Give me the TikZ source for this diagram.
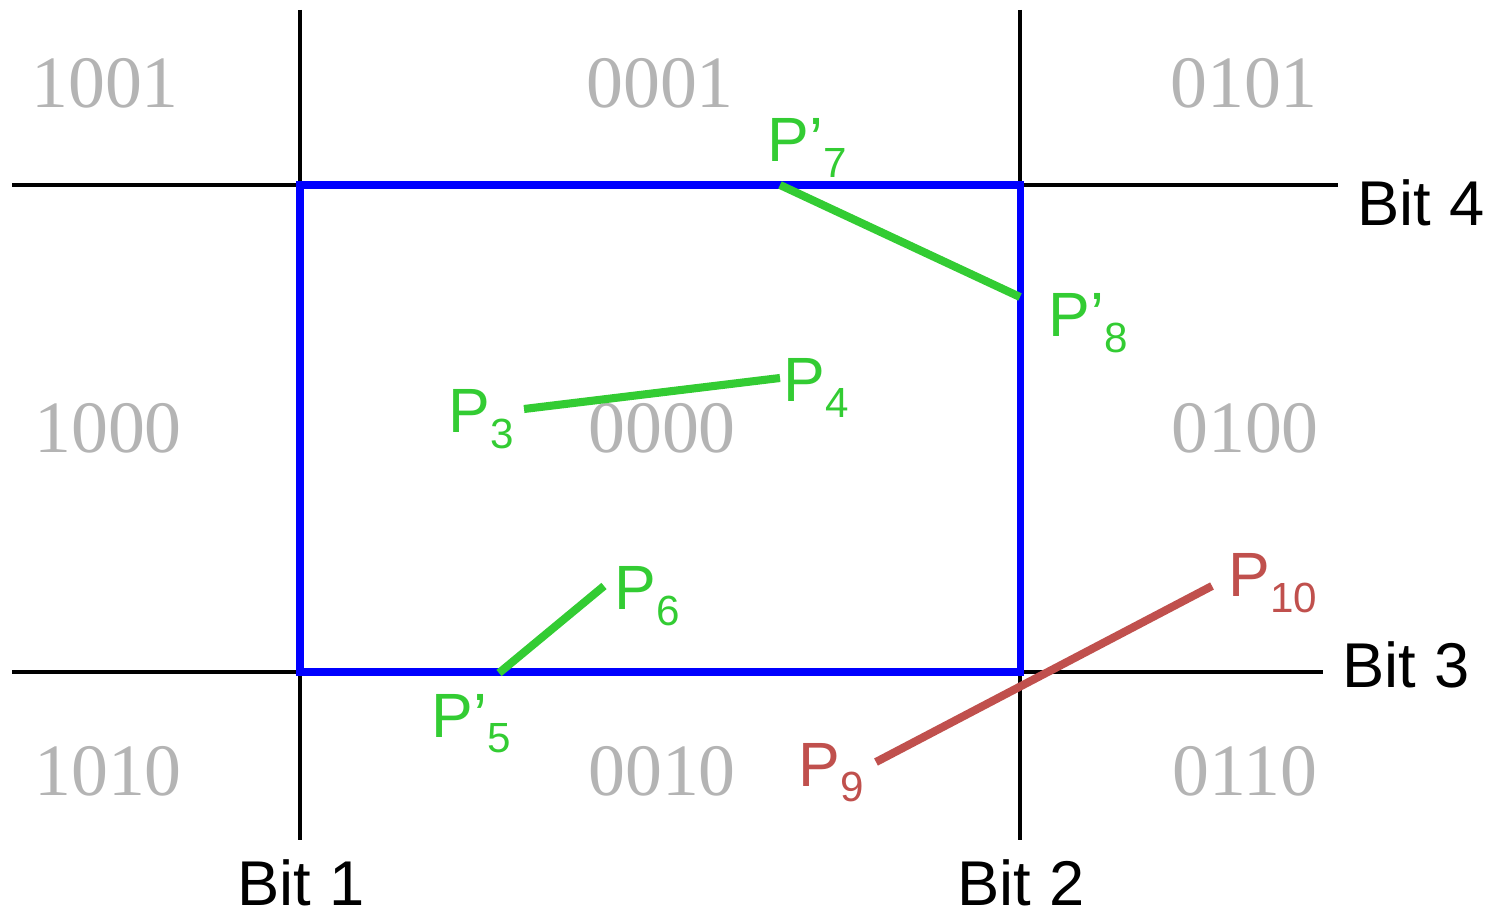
\documentclass[tikz,border=0pt]{standalone}
\usepackage{fontspec}
\setmainfont{Liberation Serif}
\newfontfamily\arialf{Liberation Sans}
\definecolor{codegray}{RGB}{180,180,180}
\definecolor{ptgreen}{RGB}{51,204,51}
\definecolor{ptred}{RGB}{192,80,77}
\newcommand\plabel[2]{P#1\raisebox{-4.3pt}{\fontsize{12}{14}\selectfont #2}}
\begin{document}
\begin{tikzpicture}[x=0.1mm,y=-0.1mm,
  code/.style={font=\fontsize{21}{24}\selectfont, text=codegray, anchor=base, inner sep=0pt},
  bitlab/.style={font=\arialf\fontsize{18}{21}\selectfont, anchor=base west, inner sep=0pt},
  ptlab/.style={font=\arialf\fontsize{17.8}{21}\selectfont, anchor=base west, inner sep=0pt, text=ptgreen},
  redlab/.style={ptlab, text=ptred},
  gridline/.style={draw=black, line width=1.05pt},
  window/.style={draw=blue, line width=2pt},
  seg/.style={draw=ptgreen, line width=2.3pt},
  redseg/.style={draw=ptred, line width=2.3pt}]
\useasboundingbox (0,0) rectangle (1500,915);
% grid
\coordinate (v1t) at (300,10); \coordinate (v1b) at (300,840);
\coordinate (v2t) at (1020,10); \coordinate (v2b) at (1020,840);
\coordinate (h4l) at (12,185); \coordinate (h4r) at (1338,185);
\coordinate (h3l) at (12,672); \coordinate (h3r) at (1323,672);
\draw[gridline] (v1t) -- (v1b);
\draw[gridline] (v2t) -- (v2b);
\draw[gridline] (h4l) -- (h4r);
\draw[gridline] (h3l) -- (h3r);
% window
\coordinate (wtl) at (300,185); \coordinate (wbr) at (1020,672);
\draw[window] (wtl) rectangle (wbr);
% region codes
\node[code] (c1001) at (105,108) {1001};
\node[code] (c0001) at (660,108) {0001};
\node[code] (c0101) at (1244,108) {0101};
\node[code] (c1000) at (108,453) {1000};
\node[code] (c0000) at (662,453) {0000};
\node[code] (c0100) at (1245,453) {0100};
\node[code] (c1010) at (108,795) {1010};
\node[code] (c0010) at (662,795) {0010};
\node[code] (c0110) at (1245,795) {0110};
% bit labels
\node[bitlab] (b4) at (1357,226) {Bit 4};
\node[bitlab] (b3) at (1342,688) {Bit 3};
\node[bitlab] (b1) at (237,905) {Bit 1};
\node[bitlab] (b2) at (957,905) {Bit 2};
% segments
\coordinate (p3) at (524,409); \coordinate (p4) at (780,378);
\coordinate (p7) at (780,185); \coordinate (p8) at (1020,297);
\coordinate (p5) at (499,673); \coordinate (p6) at (604,586);
\coordinate (p9) at (876,762); \coordinate (p10) at (1212,586);
\draw[seg] (p3) -- (p4);
\draw[seg] (p7) -- (p8);
\draw[seg] (p5) -- (p6);
\draw[redseg] (p9) -- (p10);
% point labels
\node[ptlab] (l7) at (767,162) {\plabel{’}{7}};
\node[ptlab] (l8) at (1048,337) {\plabel{’}{8}};
\node[ptlab] (l3) at (448,433) {\plabel{}{3}};
\node[ptlab] (l4) at (783,402) {\plabel{}{4}};
\node[ptlab] (l6) at (614,610) {\plabel{}{6}};
\node[ptlab] (l5) at (431,737) {\plabel{’}{5}};
\node[redlab] (l9) at (798,786) {\plabel{}{9}};
\node[redlab] (l10) at (1228,597) {\plabel{}{10}};
\end{tikzpicture}
\end{document}
